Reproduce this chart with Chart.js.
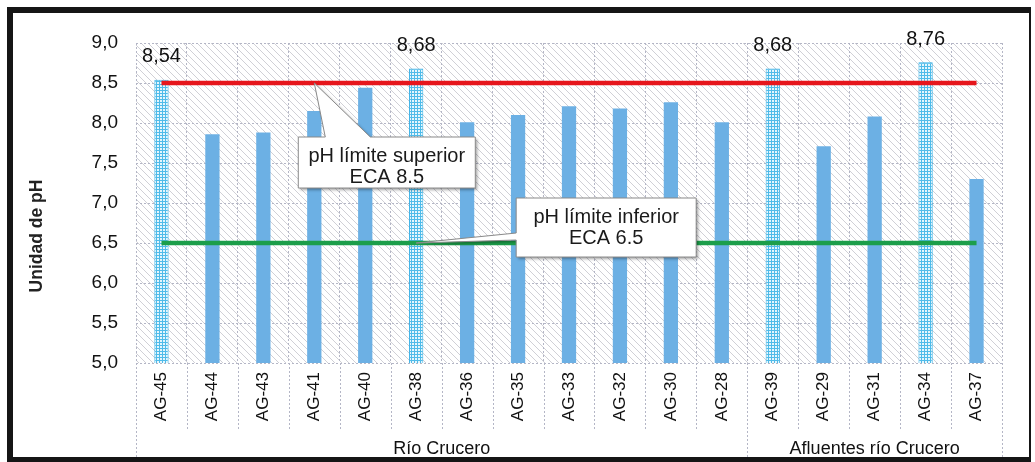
<!DOCTYPE html>
<html><head><meta charset="utf-8">
<script src="https://cdn.jsdelivr.net/npm/chart.js@4/dist/chart.umd.min.js"></script>
<style>html,body{margin:0;padding:0;background:#fff;}#wrap{width:1035px;height:462px;position:relative;}</style>
</head><body><div id="wrap"><canvas id="c" width="1035" height="462"></canvas></div>
<script>
const categories = ['AG-45','AG-44','AG-43','AG-41','AG-40','AG-38','AG-36','AG-35','AG-33','AG-32','AG-30','AG-28','AG-39','AG-29','AG-31','AG-34','AG-37'];
const phValues = [8.54,7.86,7.88,8.15,8.44,8.68,8.01,8.10,8.21,8.18,8.26,8.01,8.68,7.71,8.08,8.76,7.30];
const ecaUpper = [8.5,8.5,8.5,8.5,8.5,8.5,8.5,8.5,8.5,8.5,8.5,8.5,8.5,8.5,8.5,8.5,8.5];
const ecaLower = [6.5,6.5,6.5,6.5,6.5,6.5,6.5,6.5,6.5,6.5,6.5,6.5,6.5,6.5,6.5,6.5,6.5];
const groupNames = ['Río Crucero','Afluentes río Crucero'];
const groupSizes = [12,5];
const yMin = 5.0, yMax = 9.0, yStep = 0.5;
const yTitle = 'Unidad de pH';
const upperText = ['pH límite superior','ECA 8.5'];
const lowerText = ['pH límite inferior','ECA 6.5'];

const FONT = '"Liberation Sans", Arial, sans-serif';
const canvas = document.getElementById('c');
const ctx0 = canvas.getContext('2d');

function makeHatch(){
  const c=document.createElement('canvas'); c.width=7; c.height=7;
  const g=c.getContext('2d');
  g.strokeStyle='#d0d0d6'; g.lineWidth=1;
  g.beginPath();
  g.moveTo(0,0); g.lineTo(7,7);
  g.moveTo(-1,6); g.lineTo(1,8);
  g.moveTo(6,-1); g.lineTo(8,1);
  g.stroke();
  return ctx0.createPattern(c,'repeat');
}
function makeDots(){
  const c=document.createElement('canvas'); c.width=3; c.height=3;
  const g=c.getContext('2d');
  g.fillStyle='#e4f6fd'; g.fillRect(0,0,3,3);
  g.fillStyle='#4fbbe9'; g.fillRect(0,0,3,1); g.fillRect(0,0,1,3);
  return ctx0.createPattern(c,'repeat');
}
const hatch = makeHatch();
const dots = makeDots();
const exceeds = i => phValues[i] > ecaUpper[i];

const bgPlugin = {
  id:'bg',
  beforeDraw(chart){
    const {ctx, chartArea:a} = chart;
    ctx.save();
    ctx.fillStyle='#fff'; ctx.fillRect(0,0,chart.width,chart.height);
    ctx.fillStyle=hatch; ctx.fillRect(a.left,a.top,a.right-a.left,a.bottom-a.top);
    ctx.restore();
  }
};

function boundary(chart,i){
  const x = chart.scales.x, a = chart.chartArea;
  if(i<=0) return a.left;
  if(i>=categories.length) return a.right;
  return (x.getPixelForValue(i-1)+x.getPixelForValue(i))/2;
}

const overlayPlugin = {
  id:'overlay',
  afterDatasetsDraw(chart){
    const {ctx} = chart;
    const xs = chart.scales.x, ys = chart.scales.y;
    ctx.save();
    ctx.font = '20px '+FONT; ctx.fillStyle='#111'; ctx.textAlign='center'; ctx.textBaseline='middle';
    phValues.forEach((v,i)=>{
      if(exceeds(i)){
        ctx.fillText(v.toFixed(2).replace('.',','), xs.getPixelForValue(i), ys.getPixelForValue(v)-23);
      }
    });
    ctx.restore();
    const callouts = [
      {lines:upperText, tx:xs.getPixelForValue(3), ty:ys.getPixelForValue(ecaUpper[3]), l:-16, r:161, t:54, b:105, side:'top', p1:11, p2:56},
      {lines:lowerText, tx:xs.getPixelForValue(5), ty:ys.getPixelForValue(ecaLower[5]), l:100, r:280, t:-45, b:14, side:'left', p1:-10, p2:-3}
    ];
    callouts.forEach(c=>{
      const L=c.tx+c.l, R=c.tx+c.r, T=c.ty+c.t, B=c.ty+c.b;
      ctx.save();
      ctx.beginPath();
      if(c.side==='top'){
        ctx.moveTo(L,T); ctx.lineTo(c.tx+c.p1,T); ctx.lineTo(c.tx,c.ty); ctx.lineTo(c.tx+c.p2,T);
        ctx.lineTo(R,T); ctx.lineTo(R,B); ctx.lineTo(L,B); ctx.closePath();
      } else {
        ctx.moveTo(L,T); ctx.lineTo(R,T); ctx.lineTo(R,B); ctx.lineTo(L,B);
        ctx.lineTo(L,c.ty+c.p2); ctx.lineTo(c.tx,c.ty); ctx.lineTo(L,c.ty+c.p1); ctx.closePath();
      }
      ctx.shadowColor='rgba(0,0,0,0.35)'; ctx.shadowOffsetX=2; ctx.shadowOffsetY=2; ctx.shadowBlur=3;
      ctx.fillStyle='#fff'; ctx.fill();
      ctx.shadowColor='transparent';
      ctx.strokeStyle='#8a8a8a'; ctx.lineWidth=1; ctx.stroke();
      ctx.font='20px '+FONT; ctx.fillStyle='#1a1a1a'; ctx.textAlign='center'; ctx.textBaseline='middle';
      const cx=(L+R)/2;
      ctx.fillText(c.lines[0], cx, T+19);
      ctx.fillText(c.lines[1], cx, T+40);
      ctx.restore();
    });
  },
  afterDraw(chart){
    const {ctx, chartArea:a} = chart;
    ctx.save();
    ctx.strokeStyle='#b4b6c6'; ctx.lineWidth=1; ctx.setLineDash([2,2]);
    const groupEdges=[0]; groupSizes.reduce((s,n)=>{groupEdges.push(s+n); return s+n;},0);
    for(let i=0;i<=categories.length;i++){
      const x=Math.round(boundary(chart,i))+0.5;
      const isGroup = groupEdges.includes(i);
      ctx.beginPath(); ctx.moveTo(x,a.bottom); ctx.lineTo(x,isGroup?457:430); ctx.stroke();
    }
    ctx.setLineDash([]);
    ctx.font='18px '+FONT; ctx.fillStyle='#111'; ctx.textAlign='center'; ctx.textBaseline='middle';
    groupNames.forEach((g,k)=>{
      const x0=boundary(chart,groupEdges[k]), x1=boundary(chart,groupEdges[k+1]);
      ctx.fillText(g,(x0+x1)/2,449);
    });
    ctx.save();
    ctx.translate(37,236); ctx.rotate(-Math.PI/2);
    ctx.font='bold 17.5px '+FONT; ctx.fillStyle='#222';
    ctx.fillText(yTitle,0,0);
    ctx.restore();
    ctx.fillStyle='#151515';
    ctx.fillRect(7,7,1024,6);
    ctx.fillRect(7,7,6,455);
    ctx.fillRect(7,457,1024,5);
    ctx.fillRect(1029,7,2,455);
    ctx.restore();
  }
};

new Chart(canvas,{
  data:{
    labels:categories,
    datasets:[
      {type:'line', data:ecaUpper, borderColor:'#e6161c', borderWidth:4.5, pointRadius:0, fill:false, order:0},
      {type:'line', data:ecaLower, borderColor:'#1c9e4a', borderWidth:4.5, pointRadius:0, fill:false, order:0},
      {type:'bar', data:phValues, order:1,
       backgroundColor:c=>exceeds(c.dataIndex)?dots:'#6cb0e4',
       borderColor:c=>exceeds(c.dataIndex)?'#35b0e6':'rgba(0,0,0,0)',
       borderWidth:c=>exceeds(c.dataIndex)?1:0,
       borderSkipped:false,
       barPercentage:0.28, categoryPercentage:1}
    ]
  },
  options:{
    responsive:false, animation:false, devicePixelRatio:1,
    layout:{padding:{top:43,right:33,bottom:0,left:0}},
    plugins:{legend:{display:false}, tooltip:{enabled:false}},
    scales:{
      x:{
        offset:true,
        grid:{offset:true, color:'#b4b6c6', drawTicks:false},
        border:{display:false, dash:[2,2]},
        ticks:{autoSkip:false, maxRotation:90, minRotation:90, padding:9, color:'#111', font:{family:FONT, size:17}},
        afterFit(s){ s.height=99; }
      },
      y:{
        min:yMin, max:yMax,
        grid:{color:'#b4b6c6', drawTicks:false},
        border:{display:false, dash:[2,2]},
        ticks:{stepSize:yStep, padding:18, color:'#111', font:{family:FONT, size:19},
               callback:v=>Number(v).toFixed(1).replace('.',',')},
        afterFit(s){ s.width=136; }
      }
    }
  },
  plugins:[bgPlugin, overlayPlugin]
});
</script></body></html>
